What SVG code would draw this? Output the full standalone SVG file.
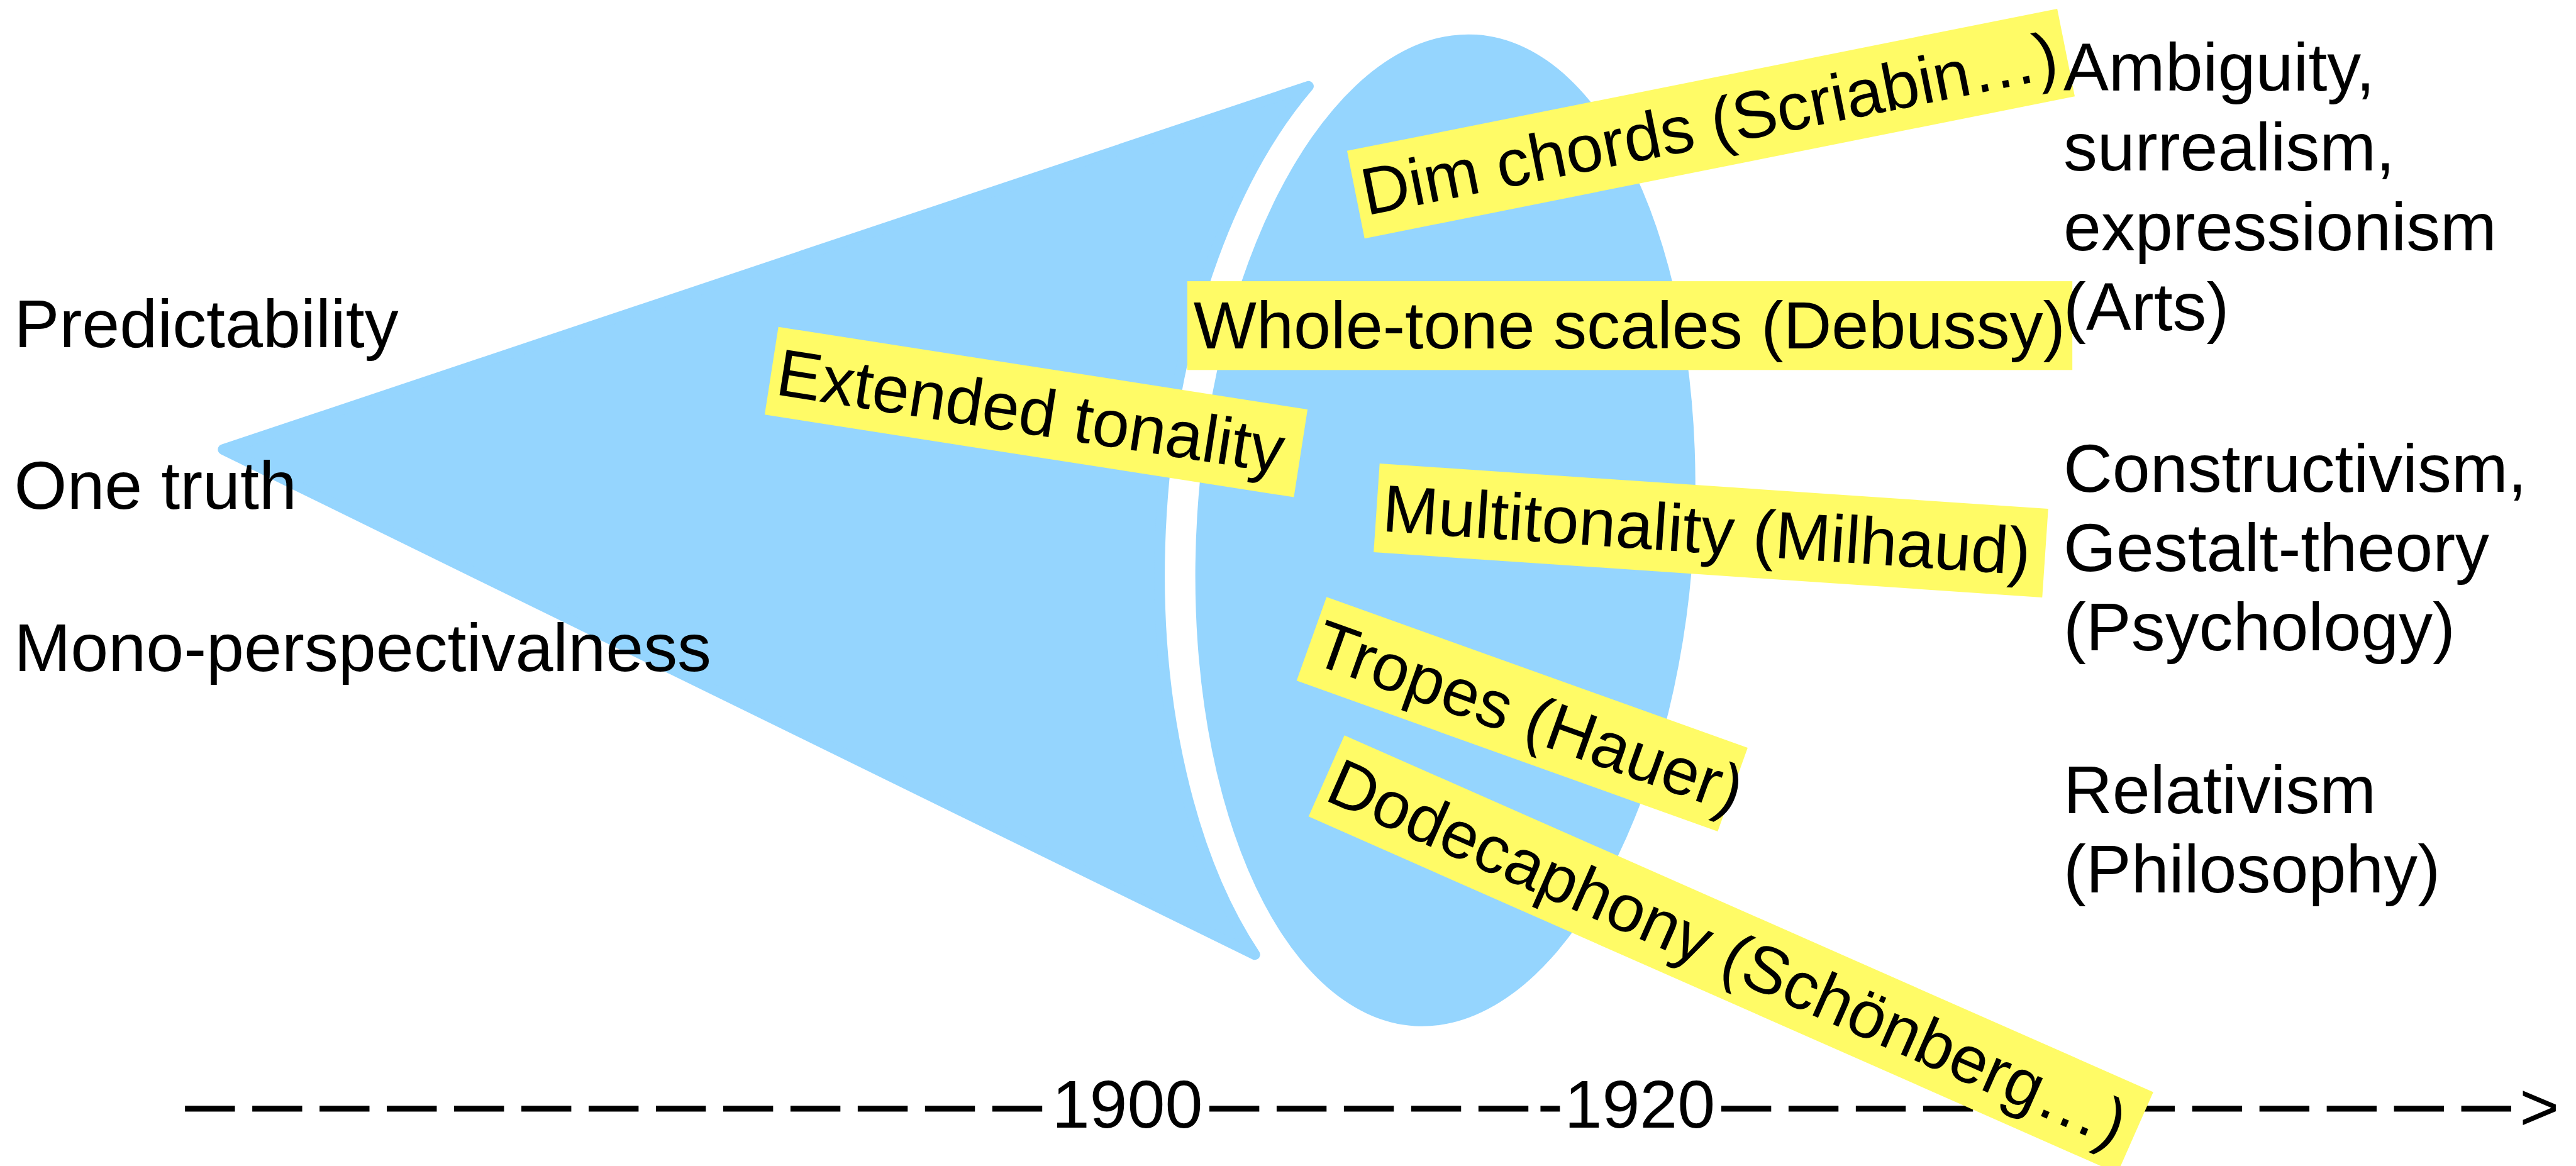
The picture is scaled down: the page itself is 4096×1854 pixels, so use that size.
<svg xmlns="http://www.w3.org/2000/svg" width="4096" height="1854" viewBox="0 0 4096 1854">
  <style>
    text { font-family: "Liberation Sans", Arial, Helvetica, sans-serif; fill: #000; }
    .lbl { font-size: 129px; }
    .tag rect { fill: #FFFB66; }
    .tag text { font-size: 127px; }
    .blue { fill: #95D5FE; }
    .cone { fill: #95D5FE; stroke: #95D5FE; stroke-width: 20; stroke-linejoin: round; }
    .dash { stroke: #000; stroke-width: 11; stroke-dasharray: 95 33; fill: none; }
    .solid { stroke: #000; stroke-width: 11; fill: none; }
  </style>
  <rect width="4096" height="1854" fill="#ffffff"/>
  <!-- drawing laid out on a 4901 x 2218 grid, scaled to the window -->
  <g transform="scale(0.8357)">
    <!-- narrowing cone of tonality, its right side follows the oval with a white gap -->
    <g id="cone">
      <path class="cone" d="M 424.5 855.3 L 2489.6 164.1 A 541 1013 3.56 0 0 2387.6 1816.3 Z"/>
    </g>
    <!-- the open field of new techniques -->
    <g id="oval">
      <ellipse class="blue" cx="2750" cy="1009" rx="473" ry="945" transform="rotate(3.56 2750 1009)"/>
    </g>

    <!-- time axis -->
    <g id="connectors">
      <line class="dash" x1="352" y1="2109.5" x2="1983" y2="2109.5"/>
      <line class="dash" x1="2301" y1="2109.5" x2="2908" y2="2109.5"/>
      <line class="solid" x1="2931" y1="2109.5" x2="2968" y2="2109.5"/>
      <line class="dash" x1="3275" y1="2109.5" x2="4778" y2="2109.5"/>
      <text class="lbl" x="4794" y="2150">&gt;</text>
    </g>
    <g id="year-1900"><text class="lbl" x="2145" y="2146" text-anchor="middle">1900</text></g>
    <g id="year-1920"><text class="lbl" x="3120" y="2146" text-anchor="middle">1920</text></g>

    <!-- highlighted techniques -->
    <g id="tag-extended" class="tag" transform="translate(1481 622) rotate(8.86)">
      <rect width="1019" height="169"/>
      <text x="12" y="128">Extended tonality</text>
    </g>
    <g id="tag-dim" class="tag" transform="translate(2563 287) rotate(-11.31)">
      <rect width="1378" height="170"/>
      <text x="12" y="128">Dim chords (Scriabin…)</text>
    </g>
    <g id="tag-wholetone" class="tag" transform="translate(2259 535)">
      <rect width="1684" height="169"/>
      <text x="12" y="128">Whole-tone scales (Debussy)</text>
    </g>
    <g id="tag-multi" class="tag" transform="translate(2625 882) rotate(3.87)">
      <rect width="1275" height="169"/>
      <text x="12" y="128">Multitonality (Milhaud)</text>
    </g>
    <g id="tag-tropes" class="tag" transform="translate(2524 1136) rotate(19.7)">
      <rect width="851" height="169"/>
      <text x="12" y="128">Tropes (Hauer)</text>
    </g>
    <g id="tag-dodeca" class="tag" transform="translate(2558 1399) rotate(23.8)">
      <rect width="1682" height="169"/>
      <text x="12" y="128">Dodecaphony (Schönberg…)</text>
    </g>

    <!-- old paradigm -->
    <g id="old-predictability"><text class="lbl" x="27" y="660">Predictability</text></g>
    <g id="old-one-truth"><text class="lbl" x="27" y="968">One truth</text></g>
    <g id="old-mono"><text class="lbl" x="27" y="1277">Mono-perspectivalness</text></g>

    <!-- parallels in other fields -->
    <g id="field-arts">
      <text class="lbl" x="3926" y="172">Ambiguity,</text>
      <text class="lbl" x="3926" y="324">surrealism,</text>
      <text class="lbl" x="3926" y="476">expressionism</text>
      <text class="lbl" x="3926" y="628">(Arts)</text>
    </g>
    <g id="field-psychology">
      <text class="lbl" x="3926" y="936">Constructivism,</text>
      <text class="lbl" x="3926" y="1086">Gestalt-theory</text>
      <text class="lbl" x="3926" y="1237">(Psychology)</text>
    </g>
    <g id="field-philosophy">
      <text class="lbl" x="3926" y="1547">Relativism</text>
      <text class="lbl" x="3926" y="1698">(Philosophy)</text>
    </g>
  </g>
</svg>
